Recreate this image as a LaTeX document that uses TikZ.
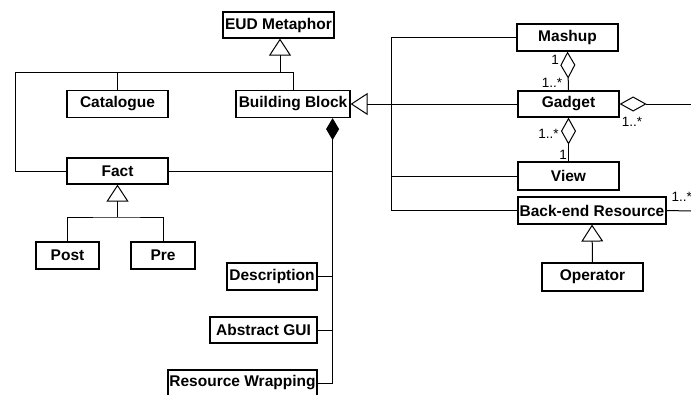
\documentclass[tikz,border=0pt]{standalone}
\usepackage{fontspec}
\setmainfont{Liberation Sans}
\usetikzlibrary{arrows.meta,calc}

\begin{document}
\begin{tikzpicture}[
  x=1pt, y=-1pt,
  cls/.style={draw, line width=1.2pt, inner xsep=1pt, inner ysep=0pt,
    minimum height=27pt, font=\bfseries\fontsize{15.5}{17}\selectfont},
  mult/.style={inner sep=0pt, font=\fontsize{13.5}{15}\selectfont},
  gen/.style={-{Triangle[open,length=17pt,width=22pt]}},
  comp/.style={{Diamond[length=22pt,width=13pt]}-},
  agg/.style={{Diamond[open,length=27pt,width=15pt]}-},
  every path/.style={line width=1pt}
]
  \useasboundingbox (0,0) rectangle (691,394);

  % classes on the left
  \node[cls, minimum width=111pt, minimum height=26pt] (eud) at (278.5,25) {EUD Metaphor};
  \node[cls, minimum width=101pt] (cat) at (117.5,104) {Catalogue};
  \node[cls, minimum width=114pt] (bb) at (293,104) {Building Block};
  \node[cls, minimum width=101pt, minimum height=26pt] (fact) at (117.5,171) {Fact};
  \node[cls, minimum width=63pt] (post) at (67.5,255.5) {Post};
  \node[cls, minimum width=64pt] (pre) at (163,255.5) {Pre};
  \node[cls, minimum width=90pt] (desc) at (272,276.5) {Description};
  \node[cls, minimum width=107pt, minimum height=26pt] (agui) at (263.5,330) {Abstract GUI};
  \node[cls, minimum width=149pt, minimum height=26pt] (rwrap) at (242.5,383) {Resource Wrapping};

  % classes on the right
  \node[cls, minimum width=101pt] (mashup) at (567.5,37.5) {Mashup};
  \node[cls, minimum width=101pt, minimum height=26pt] (gadget) at (568.5,104) {Gadget};
  \node[cls, minimum width=101pt, minimum height=28pt] (view) at (568.5,176) {View};
  \node[cls, minimum width=148pt] (ber) at (592,210.5) {Back-end Resource};
  \node[cls, minimum width=101pt, minimum height=28pt] (op) at (592.5,277) {Operator};

  % junctions
  \coordinate (gj) at (280,72);
  \coordinate (lft) at (15,72);
  \coordinate (fj) at (117.5,217);
  \coordinate (cb) at ([xshift=-18pt]bb.south east);
  \coordinate (bus) at (391,37.5);
  \coordinate (gout) at (691,104);
  \coordinate (bout) at (691,211);

  % generalisation of the metaphor
  \draw[gen] (gj) -- (gj |- eud.south);
  \draw (fact.west) -| (lft) -- (bb.north |- lft) -- (bb.north);
  \draw (cat.north) -- (cat.north |- gj);

  % facts
  \draw[gen] (fj) -- (fact.south);
  \draw (post.north) |- (fj) -| (pre.north);

  % parts of a building block
  \draw[comp] (cb) -- (cb |- rwrap.east) -- (rwrap.east);
  \draw (fact.east) -- (fact.east -| cb);
  \draw (desc.east) -- (desc.east -| cb);
  \draw (agui.east) -- (agui.east -| cb);

  % kinds of building block
  \draw[gen] (gadget.west) -- (gadget.west -| bb.east);
  \draw (mashup.west) -- (bus) |- (ber.west);
  \draw (view.west) -- (view.west -| bus);

  % aggregations
  \draw[agg] (mashup.south) -- (gadget.north);
  \draw[agg] (gadget.south) -- (view.north);
  \draw[agg] (gadget.east) -- (gout);
  \draw (ber.east) -- (bout);
  \draw[gen] (op.north) -- (ber.south);

  % multiplicities
  \node[mult] (m1) at (555,60) {1};
  \node[mult] (m2) at (552,83) {1..*};
  \node[mult] (m3) at (548.5,134) {1..*};
  \node[mult] (m4) at (563,155) {1};
  \node[mult] (m5) at (632,122) {1..*};
  \node[mult, anchor=west] (m6) at (671,197) {1..*};
\end{tikzpicture}
\end{document}
